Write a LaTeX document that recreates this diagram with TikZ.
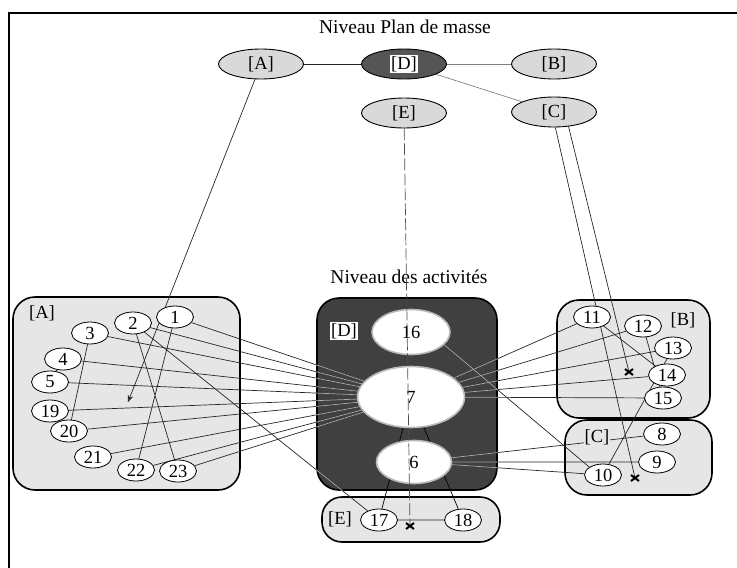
\documentclass[tikz,border=0pt]{standalone}
\usepackage{fontspec}
\setmainfont{Liberation Serif}
\usetikzlibrary{shapes.geometric,arrows.meta}
\pgfdeclarelayer{bg}
\pgfdeclarelayer{lns}
\pgfsetlayers{bg,lns,main}
\definecolor{boxgray}{HTML}{E6E6E6}
\definecolor{topgray}{HTML}{D9D9D9}
\definecolor{dgray}{HTML}{404040}
\definecolor{dtop}{HTML}{555555}
\newcommand\myLinks{%
  \draw[conn] (n1)--(n7) (n2)--(n7) (n3)--(n7) (n4)--(n7) (n5)--(n7)
    (n19)--(n7) (n20)--(n7) (n21)--(n7) (n22)--(n7) (n23)--(n7);
  \draw[conn] (n2)--(n17) (n2)--(n23) (n1)--(n22) (n3)--(n20) (n4)--(n5);
  \draw[conn] (n11)--(n7) (n12)--(n7) (n13)--(n7) (n14)--(n7) (n15)--(n7);
  \draw[conn] (n8)--(n6) (n9)--(n6) (n10)--(n6);
  \draw[conn] (n16.-21)--(n10.150) (n17)--(n18);
  \draw[conn] (n11)--(n14) (n12)--(n15) (n13)--(n10);
}
\begin{document}
\begin{tikzpicture}[x=1pt,y=-1pt,
  every node/.style={font=\fontsize{18.5}{20}\selectfont},
  num/.style={ellipse,draw=black,line width=0.8pt,fill=white,minimum width=37pt,minimum height=22pt,inner sep=0pt},
  topel/.style={ellipse,draw=black,line width=0.9pt,fill=topgray,minimum width=85pt,minimum height=30pt,inner sep=0pt},
  bigel/.style={ellipse,draw=gray!55,line width=1.6pt,fill=white,inner sep=0pt},
  grp/.style={draw=black,line width=1.6pt,fill=boxgray,rounded corners=22pt,inner sep=0pt},
  conn/.style={draw=black!85,line width=0.7pt},
  xmk/.style={draw=black,line width=2pt},
  title/.style={font=\fontsize{19.5}{22}\selectfont}]
\useasboundingbox (0,0) rectangle (737,568);
% frame
\draw[line width=2.4pt] (8,13) -- (737,13);
\draw[line width=2pt] (9,12) -- (9,568);
% titles
\node[title] (title1) at (405,27) {Niveau Plan de masse};
\node[title] (title2) at (409,277) {Niveau des activités};
% top level
\node[topel] (tA) at (261,64) {[A]};
\node[topel,fill=dtop] (tD) at (404,64) {\setlength{\fboxsep}{1pt}\colorbox{white}{[D]}};
\node[topel] (tB) at (554,64) {[B]};
\node[topel] (tE) at (404,113) {[E]};
\node[topel] (tC) at (554,112) {[C]};
% group boxes
\begin{pgfonlayer}{bg}
\node[grp,minimum width=227pt,minimum height=193pt] (gA) at (126.5,393.5) {};
\node[grp,fill=dgray,minimum width=180pt,minimum height=192pt] (gD) at (407,394) {};
\node[grp,rounded corners=20pt,minimum width=178pt,minimum height=45pt] (gE) at (411,519.5) {};
\node[grp,minimum width=153pt,minimum height=118pt] (gB) at (633.5,359) {};
\node[grp,minimum width=147pt,minimum height=75pt] (gC) at (638.5,457.5) {};
\end{pgfonlayer}
% group labels
\node (lA) at (42,313) {[A]};
\node[fill=white,inner sep=1pt] (lD) at (344,331) {[D]};
\node (lB) at (683,320) {[B]};
\node[fill=boxgray,inner sep=1pt] (lC) at (597,437) {[C]};
\node (lE) at (340,519) {[E]};
% group A
\node[num] (n1) at (175,317) {1};
\node[num] (n2) at (133,323) {2};
\node[num] (n3) at (90,333) {3};
\node[num] (n4) at (63,359) {4};
\node[num] (n5) at (50,382) {5};
\node[num] (n19) at (50,411) {19};
\node[num] (n20) at (69,431) {20};
\node[num] (n21) at (93,457) {21};
\node[num] (n22) at (136,470) {22};
\node[num] (n23) at (178,471) {23};
% group D
\node[bigel,minimum width=78pt,minimum height=45pt] (n16) at (411,332) {16};
\node[bigel,minimum width=107pt,minimum height=61pt] (n7) at (411,397) {7};
\node[bigel,minimum width=75pt,minimum height=43pt] (n6) at (414,462) {6};
% group E
\node[num] (n17) at (379,520) {17};
\node[num] (n18) at (463,520) {18};
% group B
\node[num] (n11) at (592,317) {11};
\node[num] (n12) at (643,326) {12};
\node[num] (n13) at (673,348) {13};
\node[num] (n14) at (667,375) {14};
\node[num] (n15) at (663,398) {15};
% group C
\node[num] (n8) at (662,434) {8};
\node[num] (n9) at (657,462) {9};
\node[num] (n10) at (603,475) {10};
% free ends
\coordinate (xA) at (128,402);
\coordinate (xB) at (629,372);
\coordinate (xC) at (635,478);
\coordinate (xE) at (410,526);
% connectors
\begin{pgfonlayer}{lns}
\draw[conn] (tA) -- (tD);
\draw[conn,draw=gray] (tD) -- (tB);
\draw[conn,draw=gray] (tD) -- (tC);
\draw[conn,-{Stealth[length=7pt,width=6pt]}] (tA) -- (xA);
\draw[conn] (tC.275) -- (xC);
\draw[conn] (tC.315) -- (xB);
\draw[conn,draw=black] (n7) -- (n17) (n7) -- (n18);
\myLinks
\begin{scope}
\clip[rounded corners=22pt] (gD.south west) rectangle (gD.north east);
\tikzset{conn/.style={draw=gray!65,line width=0.7pt}}
\myLinks
\end{scope}
\end{pgfonlayer}
\draw[draw=black!70,line width=0.7pt,dash pattern=on 12pt off 3pt] (tE) -- (xE);
\draw[xmk] (xB) ++(-4,-3) -- ++(8,6) (xB) ++(-4,3) -- ++(8,-6);
\draw[xmk] (xC) ++(-4,-3) -- ++(8,6) (xC) ++(-4,3) -- ++(8,-6);
\draw[xmk] (xE) ++(-4,-3) -- ++(8,6) (xE) ++(-4,3) -- ++(8,-6);
\end{tikzpicture}
\end{document}
